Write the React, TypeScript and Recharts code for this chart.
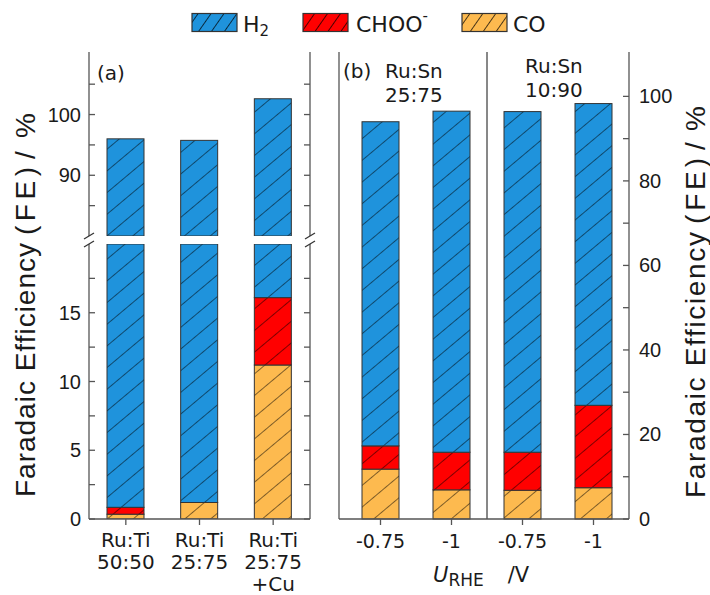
import React from "react";
import { BarChart, Bar, XAxis, YAxis, ReferenceLine } from "recharts";

const BLUE = "#1f93dc";
const RED = "#ff0000";
const ORANGE = "#fdba4f";
const AX = "#555";
const TXT = "#1a1a1a";

// panel (a): Ru:Ti samples, shown on a broken axis
const catsA = ["Ru:Ti|50:50", "Ru:Ti|25:75", "Ru:Ti|25:75|+Cu"];
const coA = [0.35, 1.2, 11.2];
const chooA = [0.5, 0, 4.9];
const h2A = [95.15, 94.55, 86.5];

// panel (b): Ru:Sn samples at two potentials
const groupsB = ["25:75", "25:75", "10:90", "10:90"];
const potentialsB = ["-0.75", "-1", "-0.75", "-1"];
const coB = [11.8, 6.9, 6.8, 7.4];
const chooB = [5.5, 8.9, 9.0, 19.5];
const h2B = [76.7, 80.7, 80.6, 71.4];

const ticksAUpper = [80, 85, 90, 95, 100, 105];
const labelsAUpper = [90, 100];
const ticksALower = [0, 2.5, 5, 7.5, 10, 12.5, 15, 17.5, 20];
const labelsALower = [0, 5, 10, 15];
const ticksB = [0, 10, 20, 30, 40, 50, 60, 70, 80, 90, 100];
const labelsB = [0, 20, 40, 60, 80, 100];

const dataA = catsA.map((c, i) => ({ id: c, co: coA[i], choo: chooA[i], h2: h2A[i] }));
const dataB = potentialsB.map((p, i) => ({
  id: `${p}|${groupsB[i]}|${i}`,
  co: coB[i],
  choo: chooB[i],
  h2: h2B[i],
}));

// y tick: inward tick line, optional label, optional break slash
function makeYTick(side: "left" | "right", labels: number[], breakAt?: number) {
  return (props: any) => {
    const { x, y, payload } = props;
    const v = Number(payload.value);
    if (v === breakAt) {
      return <line x1={x - 5} y1={y + 3} x2={x + 5} y2={y - 3} stroke="#333" strokeWidth={1.3} />;
    }
    const dir = side === "left" ? 1 : -1;
    const show = labels.some((l) => Math.abs(l - v) < 1e-6);
    return (
      <g>
        <line x1={x} x2={x + dir * 6} y1={y} y2={y} stroke={AX} strokeWidth={1.3} />
        {show && (
          <text
            x={side === "left" ? x - 8 : x + 10}
            y={y + 7}
            textAnchor={side === "left" ? "end" : "start"}
            fontSize={20}
            fontFamily="Liberation Sans"
            fill={TXT}
          >
            {v}
          </text>
        )}
      </g>
    );
  };
}

const catTick = (props: any) => {
  const { x, y, payload } = props;
  const lines = String(payload.value).split("|");
  return (
    <text x={x} y={y} textAnchor="middle" fontSize={20} fontFamily="DejaVu Sans" fill={TXT}>
      {lines.map((l, i) => (
        <tspan key={i} x={x} dy={i === 0 ? 20 : 22}>
          {l}
        </tspan>
      ))}
    </text>
  );
};

const potTick = (props: any) => {
  const { x, y, payload } = props;
  const label = String(payload.value).split("|")[0];
  return (
    <text x={x} y={y + 21} textAnchor="middle" fontSize={19} fontFamily="DejaVu Sans" fill={TXT}>
      {label}
    </text>
  );
};

// bar segment clamped to the plot area so the cut edge keeps its outline
const hatchBar = (props: any) => {
  const { x, width, fill, background } = props;
  let top = props.y;
  let bot = props.y + props.height;
  if (top > bot) [top, bot] = [bot, top];
  if (background) {
    top = Math.max(top, background.y);
    bot = Math.min(bot, background.y + background.height);
  }
  if (bot - top < 0) return null;
  return (
    <g>
      <rect x={x} y={top} width={width} height={bot - top} fill={fill} />
      <rect x={x} y={top} width={width} height={bot - top} fill="url(#hatch)" stroke="#333" strokeWidth={1} />
    </g>
  );
};

const series = [
  { key: "co", color: ORANGE },
  { key: "choo", color: RED },
  { key: "h2", color: BLUE },
];

function bars(yId: string) {
  return series.map((s) => (
    <Bar
      key={s.key}
      dataKey={s.key}
      stackId="s"
      yAxisId={yId}
      fill={s.color}
      barSize={37}
      shape={hatchBar}
      isAnimationActive={false}
    />
  ));
}

// rotated axis title split in three pieces, each stretched to its measured length
function SideTitle({ x, y, lengths }: { x: number; y: number; lengths: number[] }) {
  const parts = ["Faradaic Efficiency", "(FE)", "/%"];
  const gap = 8;
  let pos = 0;
  return (
    <g transform={`translate(${x} ${y}) rotate(-90)`} fontFamily="Liberation Sans" fontSize={28} fill={TXT}>
      {parts.map((p, i) => {
        const at = pos;
        pos += lengths[i] + gap;
        return (
          <text key={i} x={at} y={0} textLength={lengths[i]} lengthAdjust="spacing">
            {p}
          </text>
        );
      })}
    </g>
  );
}

export default function App() {
  const abs = (left: number, top: number): React.CSSProperties => ({ position: "absolute", left, top });
  const axisLine = { stroke: AX, strokeWidth: 1.3 };
  return (
    <div style={{ position: "absolute", left: 0, top: 0, width: 710, height: 595, background: "#fff" }}>
      <svg width={0} height={0} style={{ position: "absolute" }}>
        <defs>
          <pattern id="hatch" patternUnits="userSpaceOnUse" width={16.6} height={20} patternTransform="rotate(50)">
            <line x1={0} y1={-5} x2={0} y2={25} stroke="#000" strokeWidth={1} />
          </pattern>
          <pattern id="hatchLeg" patternUnits="userSpaceOnUse" width={10.6} height={20} patternTransform="rotate(35)">
            <line x1={0} y1={-5} x2={0} y2={25} stroke="#000" strokeWidth={1.4} />
          </pattern>
        </defs>
      </svg>

      {/* panel (a) upper part */}
      <div style={abs(0, 0)}>
        <BarChart width={340} height={240} data={dataA} margin={{ top: 52, right: 0, bottom: 4, left: 0 }}>
          <XAxis dataKey="id" hide />
          <XAxis dataKey="id" xAxisId="top" orientation="top" height={0} tick={false} tickLine={false} axisLine={axisLine} />
          <YAxis yAxisId="l" width={89} domain={[80, 110.3]} allowDataOverflow ticks={ticksAUpper} interval={0}
            tickSize={0} tickMargin={0} tickLine={false} axisLine={axisLine} tick={makeYTick("left", labelsAUpper, 80)} />
          <YAxis yAxisId="r" orientation="right" width={30} domain={[80, 110.3]} allowDataOverflow ticks={ticksAUpper} interval={0}
            tickSize={0} tickMargin={0} tickLine={false} axisLine={axisLine} tick={makeYTick("right", [], 80)} />
          {bars("l")}
        </BarChart>
      </div>

      {/* panel (a) lower part */}
      <div style={abs(0, 240)}>
        <BarChart width={340} height={355} data={dataA} margin={{ top: 4, right: 0, bottom: 0, left: 0 }}>
          <XAxis dataKey="id" height={76} tickSize={6} tickMargin={2} interval={0} tick={catTick}
            tickLine={axisLine} axisLine={axisLine} />
          <YAxis yAxisId="l" width={89} domain={[0, 20]} allowDataOverflow ticks={ticksALower} interval={0}
            tickSize={0} tickMargin={0} tickLine={false} axisLine={axisLine} tick={makeYTick("left", labelsALower, 20)} />
          <YAxis yAxisId="r" orientation="right" width={30} domain={[0, 20]} allowDataOverflow ticks={ticksALower} interval={0}
            tickSize={0} tickMargin={0} tickLine={false} axisLine={axisLine} tick={makeYTick("right", [], 20)} />
          {bars("l")}
        </BarChart>
      </div>

      {/* panel (b): values read on the right axis */}
      <div style={abs(320, 0)}>
        <BarChart width={390} height={595} data={dataB} margin={{ top: 52, right: 0, bottom: 0, left: 0 }}>
          <XAxis dataKey="id" height={76} tickSize={6} tickMargin={2} interval={0} tick={potTick} padding={{ left: 6, right: 0 }}
            tickLine={axisLine} axisLine={axisLine} />
          <XAxis dataKey="id" xAxisId="top" orientation="top" height={0} tick={false} tickLine={false} padding={{ left: 6, right: 0 }}
            axisLine={axisLine} />
          <YAxis yAxisId="l" width={19} domain={[0, 110.5]} ticks={ticksB} interval={0}
            tickSize={0} tickMargin={0} tickLine={false} axisLine={axisLine} tick={makeYTick("left", [])} />
          <YAxis yAxisId="r" orientation="right" width={81} domain={[0, 110.5]} ticks={ticksB} interval={0}
            tickSize={0} tickMargin={0} tickLine={false} axisLine={axisLine} tick={makeYTick("right", labelsB)} />
          {bars("r")}
          <ReferenceLine x={dataB[1].id} position="end" yAxisId="r" stroke="#111" strokeWidth={1} />
        </BarChart>
      </div>

      {/* legend, titles, annotations */}
      <svg width={710} height={595} style={{ position: "absolute", left: 0, top: 0, pointerEvents: "none" }}>
        <g fontFamily="DejaVu Sans" fill={TXT}>
          {[
            { x: 192, color: BLUE },
            { x: 303, color: RED },
            { x: 462, color: ORANGE },
          ].map((s, i) => (
            <g key={i}>
              <rect x={s.x} y={13.5} width={45} height={18} fill={s.color} />
              <rect x={s.x} y={13.5} width={45} height={18} fill="url(#hatchLeg)" stroke="#333" strokeWidth={1.2} />
            </g>
          ))}
          <text x={243} y={32} fontSize={22}>
            H<tspan fontSize={15} dy={4}>2</tspan>
          </text>
          <text x={356} y={32} fontSize={22}>
            CHOO<tspan fontSize={15} dy={-11}>-</tspan>
          </text>
          <text x={513} y={32} fontSize={22}>CO</text>

          <text x={97} y={80} fontSize={20}>(a)</text>
          <text x={343} y={78} fontSize={20}>(b)</text>
          <text x={385} y={78} fontSize={20}>Ru:Sn</text>
          <text x={385} y={102} fontSize={20}>25:75</text>
          <text x={525} y={73} fontSize={20}>Ru:Sn</text>
          <text x={525} y={97} fontSize={20}>10:90</text>

          <text x={433} y={582} fontSize={21}>
            <tspan fontStyle="italic">U</tspan>
            <tspan fontSize={17} dy={4}>RHE</tspan>
            <tspan dy={-4} dx={24}>/V</tspan>
          </text>
        </g>
        <SideTitle x={35} y={497} lengths={[254, 68, 46]} />
        <SideTitle x={705} y={498} lengths={[266, 66, 44]} />
      </svg>
    </div>
  );
}
